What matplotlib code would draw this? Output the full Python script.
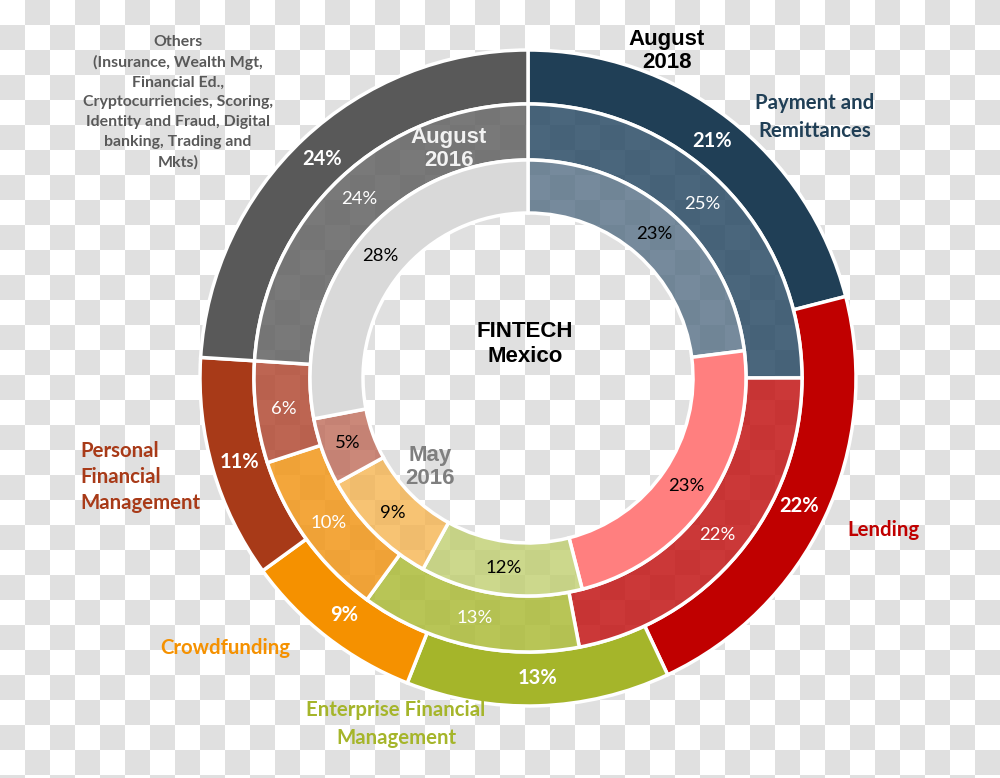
import matplotlib
matplotlib.use('Agg')
import matplotlib.pyplot as plt
import numpy as np
from matplotlib.colors import to_rgba

# data: share of fintech startups by segment (percent)
segments = ['Payment and\nRemittances', 'Lending', 'Enterprise Financial\nManagement',
            'Crowdfunding', 'Personal\nFinancial\nManagement',
            'Others\n(Insurance, Wealth Mgt,\nFinancial Ed.,\nCryptocurriencies, Scoring,\nIdentity and Fraud, Digital\nbanking, Trading and\nMkts)']
aug_2018 = [21, 22, 13, 9, 11, 24]
aug_2016 = [25, 22, 13, 10, 6, 24]
may_2016 = [23, 23, 12, 9, 5, 28]

# colours
outer_colors = ['#203F56', '#C00000', '#A5B52A', '#F59100', '#A83A18', '#595959']
mid_colors = [to_rgba(c, 0.88) for c in ['#31516A', '#C41C1C', '#AEBD3E', '#F29A20', '#B4503A', '#666666']]
inner_colors = [to_rgba('#587186', 0.82), '#FF7F7F', to_rgba('#C0CF70', 0.8),
                to_rgba('#F5B450', 0.8), to_rgba('#C06E5C', 0.82), '#D9D9D9']
label_colors = outer_colors

W, H = 1000, 778
cx, cy, R = 528, 378, 328.0


def px(x, y):
    # pixel position -> data coords (outer radius = 1)
    return (x - cx) / R, (cy - y) / R


fig = plt.figure(figsize=(10, 7.78), dpi=100)
ax = fig.add_axes([0, 0, 1, 1])
ax.axis('off')

# checkerboard background (transparent png look)
nr, nc = int(np.ceil(H / 25)), W // 25
board = (np.add.outer(np.arange(nr), np.arange(nc)) % 2).astype(float)
x0, y1 = px(0, 0)
ax.imshow(board, cmap=matplotlib.colors.ListedColormap(['#FFFFFF', '#E0E0E0']),
          extent=(x0, x0 + nc * 25 / R, y1 - nr * 25 / R, y1),
          interpolation='nearest', zorder=0, aspect='auto')

edge = dict(edgecolor='white', linewidth=2.5)
fmt = lambda p: f'{p:.0f}%'

_, _, t_out = ax.pie(aug_2018, radius=1.0, startangle=90, counterclock=False,
                     colors=outer_colors, wedgeprops=dict(width=54 / R, **edge),
                     autopct=fmt, pctdistance=0.915)
_, _, t_mid = ax.pie(aug_2016, radius=274 / R, startangle=90, counterclock=False,
                     colors=mid_colors, wedgeprops=dict(width=56 / R, **edge),
                     autopct=fmt, pctdistance=0.898)
_, _, t_in = ax.pie(may_2016, radius=218 / R, startangle=90, counterclock=False,
                    colors=inner_colors, wedgeprops=dict(width=53 / R, **edge),
                    autopct=fmt, pctdistance=0.878)
ax.set_xlim(-cx / R, (W - cx) / R)
ax.set_ylim(-(H - cy) / R, cy / R)
ax.set_aspect('auto')

for t in t_out:
    t.set(color='white', fontsize=14.5, fontweight='bold', family='Lato')
for t in t_mid:
    t.set(color='white', fontsize=13.3, family='Lato')
for t in t_in:
    t.set(color='black', fontsize=13.3, family='Lato')

# segment labels
label_pos = [(815, 117, 'center'), (883, 530, 'center'), (396, 724, 'center'),
             (225, 648, 'center'), (80, 477, 'left'), (178, 102, 'center')]
label_size = [14.7, 14.7, 14.7, 14.7, 14.7, 11.4]
label_spacing = [1.45, 1.45, 1.45, 1.45, 1.4, 1.52]
for name, (x, y, ha), c, s, ls in zip(segments, label_pos, label_colors, label_size, label_spacing):
    ax.text(*px(x, y), name, ha=ha, va='center', color=c, fontsize=s,
            fontweight='bold', family='Lato', linespacing=ls, multialignment=ha)

# ring titles
titles = [(667, 51, 'August\n2018', 'black', 1.1),
          (449, 149, 'August\n2016', '#F2F2F2', 1.1),
          (430, 467, 'May\n2016', '#7F7F7F', 1.1),
          (525, 344, 'FINTECH\nMexico', 'black', 1.25)]
for x, y, s, c, ls in titles:
    ax.text(*px(x, y), s, ha='center', va='center', fontsize=16, fontweight='bold',
            family='Liberation Sans', color=c, linespacing=ls)

fig.savefig('out.png', dpi=100)
